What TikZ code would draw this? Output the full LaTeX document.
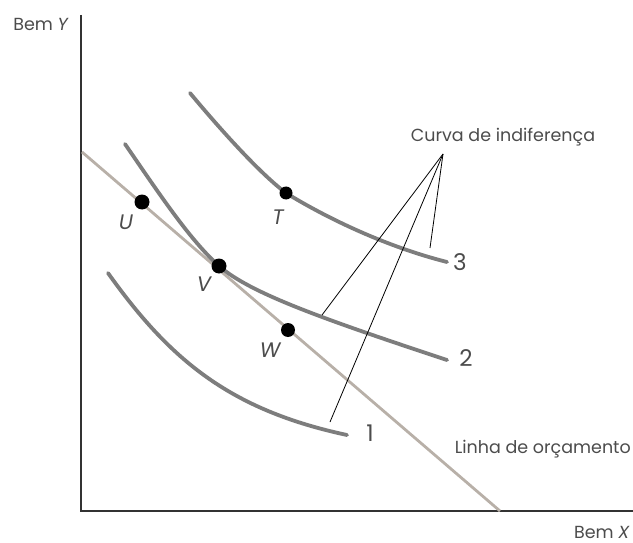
\documentclass[tikz,border=0pt]{standalone}
\usepackage{fontspec}
\setmainfont{Poppins}
\definecolor{budgetc}{RGB}{184,176,168}
\definecolor{curvec}{RGB}{125,125,125}
\begin{document}
\begin{tikzpicture}[x=1pt,y=-1pt,
  axisline/.style={line width=2pt,draw=black!80},
  icurve/.style={line width=3.8pt,draw=curvec,line cap=round},
  budget/.style={line width=2.8pt,draw=budgetc},
  pointer/.style={line width=0.8pt,draw=black},
  dotpt/.style={circle,fill=black,inner sep=0pt,minimum size=#1},
  lbl/.style={font=\fontsize{17.5}{20}\selectfont,text=black!70,inner sep=0pt},
  numlbl/.style={font=\fontsize{23}{24}\selectfont,text=black!70,inner sep=0pt},
  ptlbl/.style={font=\fontsize{21}{22}\selectfont\itshape,text=black!70,inner sep=0pt}]
\useasboundingbox (0,0) rectangle (633,543);
% axes
\coordinate (ytop) at (81,15);
\coordinate (orig) at (81,511);
\coordinate (xend) at (633,511);
\draw[axisline] (ytop) -- (orig) -- (xend);
% budget line
\coordinate (b1) at (82,152);
\coordinate (b2) at (500,511);
\draw[budget] (b1) -- (b2);
% indifference curves
\draw[icurve] (190,93) .. controls (225,135) and (262,175) .. (286,193)
              .. controls (320,214) and (380,245) .. (447,262);
\draw[icurve] (125,144) .. controls (160,195) and (190,240) .. (219,266)
              .. controls (250,293) and (320,318) .. (447,360);
\draw[icurve] (108,273) .. controls (170,360) and (230,410) .. (347,435);
% points
\node[dotpt=15pt] (U) at (142,202) {};
\node[dotpt=15pt] (V) at (219,266) {};
\node[dotpt=14pt] (W) at (288,330) {};
\node[dotpt=13pt] (T) at (286,193) {};
\node[ptlbl] (Ul) at (126,222) {U};
\node[ptlbl] (Vl) at (204,284) {V};
\node[ptlbl] (Wl) at (270,350) {W};
\node[ptlbl] (Tl) at (278,217) {T};
% curve numbers
\node[numlbl] (n3) at (460,262) {3};
\node[numlbl] (n2) at (466,358) {2};
\node[numlbl] (n1) at (370,433) {1};
% labels
\node[lbl] (cvlab) at (503,137) {Curva de indiferença};
\node[lbl,anchor=east] (bl) at (631,449) {Linha de orçamento};
\node[lbl,anchor=base east] (bx) at (630,538) {Bem \textit{X}};
\node[lbl] (by) at (41,24) {Bem \textit{Y}};
% pointers
\coordinate (conv) at (443,154);
\coordinate (p3) at (430,248);
\coordinate (p2) at (322,315);
\coordinate (p1) at (330,422);
\draw[pointer] (conv) -- (p3);
\draw[pointer] (conv) -- (p2);
\draw[pointer] (conv) -- (p1);
\end{tikzpicture}
\end{document}
